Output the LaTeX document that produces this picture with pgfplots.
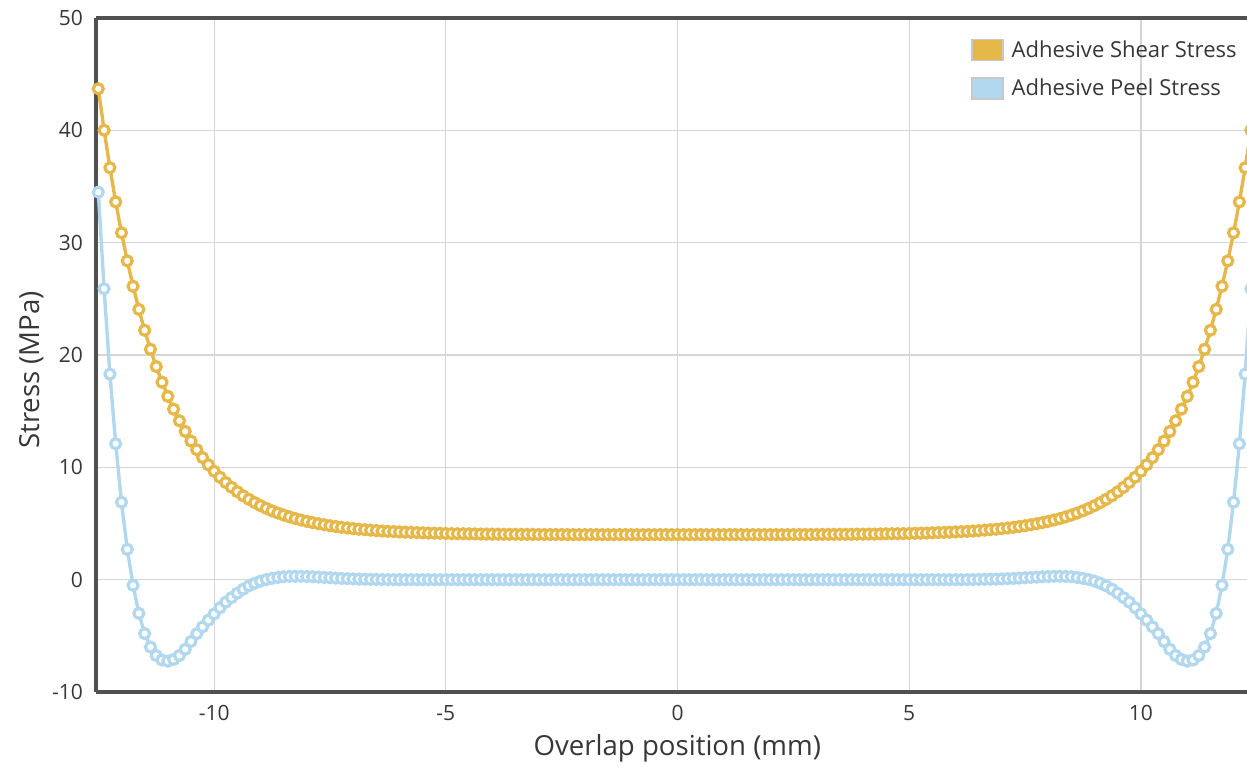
\documentclass[border=0pt]{standalone}
\usepackage{pgfplots}
\pgfplotsset{compat=1.18}
\usepackage{pgfplotstable}
\usepackage{fontspec}
\setmainfont{Open Sans}
\definecolor{shear}{RGB}{230,184,74}
\definecolor{peel}{RGB}{178,216,240}
\definecolor{axisgray}{RGB}{80,80,80}
\definecolor{txt}{RGB}{55,55,55}
\definecolor{gridc}{RGB}{214,214,214}
\definecolor{swb}{RGB}{200,200,200}

\pgfplotstableread{
x shear peel
-12.5 43.70 34.5
-12.375 40.01 25.9
-12.25 36.67 18.3
-12.125 33.63 12.1
-12 30.88 6.9
-11.875 28.38 2.7
-11.75 26.12 -0.5
-11.625 24.06 -3.0
-11.5 22.20 -4.8
-11.375 20.51 -6.0
-11.25 18.97 -6.75
-11.125 17.58 -7.15
-11 16.32 -7.25
-10.875 15.18 -7.1
-10.75 14.14 -6.75
-10.625 13.20 -6.2
-10.5 12.34 -5.5
-10.375 11.57 -4.8
-10.25 10.87 -4.2
-10.125 10.23 -3.6
-10 9.65 -3.05
-9.875 9.12 -2.5
-9.75 8.65 -2.0
-9.625 8.22 -1.6
-9.5 7.83 -1.2
-9.375 7.47 -0.85
-9.25 7.15 -0.55
-9.125 6.86 -0.32
-9 6.59 -0.13
-8.875 6.35 0.01
-8.75 6.13 0.12
-8.625 5.93 0.2
-8.5 5.75 0.26
-8.375 5.59 0.29
-8.25 5.44 0.3
-8.125 5.31 0.3
-8 5.19 0.28
-7.875 5.08 0.26
-7.75 4.98 0.23
-7.625 4.89 0.2
-7.5 4.80 0.17
-7.375 4.73 0.14
-7.25 4.66 0.11
-7.125 4.60 0.09
-7 4.54 0.07
-6.875 4.49 0.05
-6.75 4.45 0.04
-6.625 4.41 0.03
-6.5 4.37 0.02
-6.375 4.33 0.01
-6.25 4.30 0.01
-6.125 4.28 0
-6 4.25 0
-5.875 4.23 0
-5.75 4.21 0
-5.625 4.19 0
-5.5 4.17 0
-5.375 4.15 0
-5.25 4.14 0
-5.125 4.13 0
-5 4.11 0
-4.875 4.10 0
-4.75 4.09 0
-4.625 4.09 0
-4.5 4.08 0
-4.375 4.07 0
-4.25 4.06 0
-4.125 4.06 0
-4 4.05 0
-3.875 4.05 0
-3.75 4.04 0
-3.625 4.04 0
-3.5 4.04 0
-3.375 4.03 0
-3.25 4.03 0
-3.125 4.03 0
-3 4.02 0
-2.875 4.02 0
-2.75 4.02 0
-2.625 4.02 0
-2.5 4.02 0
-2.375 4.01 0
-2.25 4.01 0
-2.125 4.01 0
-2 4.01 0
-1.875 4.01 0
-1.75 4.01 0
-1.625 4.01 0
-1.5 4.01 0
-1.375 4.01 0
-1.25 4.01 0
-1.125 4.01 0
-1 4.01 0
-0.875 4.01 0
-0.75 4.01 0
-0.625 4.01 0
-0.5 4.01 0
-0.375 4.01 0
-0.25 4.01 0
-0.125 4.01 0
0 4.01 0
0.125 4.01 0
0.25 4.01 0
0.375 4.01 0
0.5 4.01 0
0.625 4.01 0
0.75 4.01 0
0.875 4.01 0
1 4.01 0
1.125 4.01 0
1.25 4.01 0
1.375 4.01 0
1.5 4.01 0
1.625 4.01 0
1.75 4.01 0
1.875 4.01 0
2 4.01 0
2.125 4.01 0
2.25 4.01 0
2.375 4.01 0
2.5 4.02 0
2.625 4.02 0
2.75 4.02 0
2.875 4.02 0
3 4.02 0
3.125 4.03 0
3.25 4.03 0
3.375 4.03 0
3.5 4.04 0
3.625 4.04 0
3.75 4.04 0
3.875 4.05 0
4 4.05 0
4.125 4.06 0
4.25 4.06 0
4.375 4.07 0
4.5 4.08 0
4.625 4.09 0
4.75 4.09 0
4.875 4.10 0
5 4.11 0
5.125 4.13 0
5.25 4.14 0
5.375 4.15 0
5.5 4.17 0
5.625 4.19 0
5.75 4.21 0
5.875 4.23 0
6 4.25 0
6.125 4.28 0
6.25 4.30 0.01
6.375 4.33 0.01
6.5 4.37 0.02
6.625 4.41 0.03
6.75 4.45 0.04
6.875 4.49 0.05
7 4.54 0.07
7.125 4.60 0.09
7.25 4.66 0.11
7.375 4.73 0.14
7.5 4.80 0.17
7.625 4.89 0.2
7.75 4.98 0.23
7.875 5.08 0.26
8 5.19 0.28
8.125 5.31 0.3
8.25 5.44 0.3
8.375 5.59 0.29
8.5 5.75 0.26
8.625 5.93 0.2
8.75 6.13 0.12
8.875 6.35 0.01
9 6.59 -0.13
9.125 6.86 -0.32
9.25 7.15 -0.55
9.375 7.47 -0.85
9.5 7.83 -1.2
9.625 8.22 -1.6
9.75 8.65 -2.0
9.875 9.12 -2.5
10 9.65 -3.05
10.125 10.23 -3.6
10.25 10.87 -4.2
10.375 11.57 -4.8
10.5 12.34 -5.5
10.625 13.20 -6.2
10.75 14.14 -6.75
10.875 15.18 -7.1
11 16.32 -7.25
11.125 17.58 -7.15
11.25 18.97 -6.75
11.375 20.51 -6.0
11.5 22.20 -4.8
11.625 24.06 -3.0
11.75 26.12 -0.5
11.875 28.38 2.7
12 30.88 6.9
12.125 33.63 12.1
12.25 36.67 18.3
12.375 40.01 25.9
12.5 43.70 34.5
}\stress

\begin{document}
\begin{tikzpicture}
\begin{axis}[
  scale only axis, width=575.5pt, height=337pt,
  xmin=-12.55, xmax=12.29, ymin=-10, ymax=50,
  clip=false,
  axis x line*=box, axis y line*=left,
  axis line style={axisgray, line width=1.6pt},
  xtick={-10,-5,0,5,10}, ytick={-10,0,10,20,30,40,50},
  major tick length=0pt,
  grid=major, major grid style={gridc, line width=0.6pt},
  /pgf/number format/assume math mode=true,
  tick label style={font=\fontsize{10.5}{12}\selectfont, text=txt},
  xticklabel style={yshift=-3pt},
  yticklabel style={xshift=-3pt},
  xlabel={Overlap position (mm)}, ylabel={Stress (MPa)},
  label style={font=\fontsize{13.8}{16}\selectfont, text=txt},
  xlabel style={at={(axis description cs:0.505,-0.083)}, anchor=center},
  ylabel style={at={(axis description cs:-0.0556,0.478)}, anchor=center},
  legend cell align=left,
  legend style={at={(axis description cs:1.0,0.979)}, anchor=north east,
    draw=none, fill=none, font=\fontsize{11}{13}\selectfont, text=txt,
    row sep=5.5pt, inner xsep=1pt, nodes={inner xsep=4pt}},
]
\addplot[shear, line width=1.7pt, mark=*, mark size=2.5pt,
  mark options={fill=white, draw=shear, line width=1.6pt},
  legend image code/.code={\draw[fill=shear, draw=swb, line width=0.9pt] (0pt,-5pt) rectangle (15.5pt,5.5pt);}]
  table[x=x, y=shear] {\stress};
\addlegendentry{Adhesive Shear Stress}
\addplot[peel, line width=1.7pt, mark=*, mark size=2.5pt,
  mark options={fill=white, draw=peel, line width=1.6pt},
  legend image code/.code={\draw[fill=peel, draw=swb, line width=0.9pt] (0pt,-5pt) rectangle (15.5pt,5.5pt);}]
  table[x=x, y=peel] {\stress};
\addlegendentry{Adhesive Peel Stress}
\end{axis}
\pgfresetboundingbox
\path[use as bounding box] (-48pt,-37.5pt) rectangle (575.5pt,346pt);
\end{tikzpicture}
\end{document}
